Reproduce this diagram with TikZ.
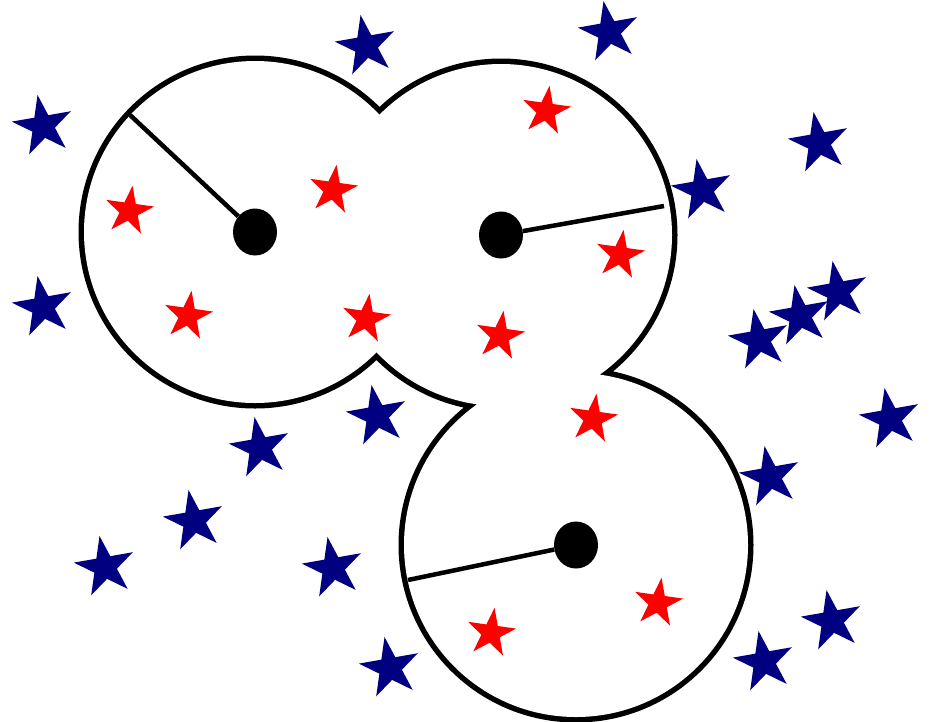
\documentclass[tikz,border=0pt]{standalone}
\usepackage{tikz}
\usetikzlibrary{shapes.geometric}
\definecolor{navy}{RGB}{0,0,128}

\begin{document}
\begin{tikzpicture}[x=1pt, y=-1pt,
  bstar/.style={star, star points=5, star point ratio=2.618, minimum size=63pt,
                inner sep=0pt, fill=navy, shape border rotate=10},
  rstar/.style={star, star points=5, star point ratio=2.618, minimum size=51pt,
                inner sep=0pt, fill=red, shape border rotate=-8},
  ctr/.style={ellipse, fill=black, minimum width=44pt, minimum height=47pt, inner sep=0pt},
  rad/.style={line width=4.5pt},
  ring/.style={line width=11pt}]
  \useasboundingbox (0,0) rectangle (931,721);
  % centres and radius ends
  \coordinate (o1) at (255,232); \coordinate (o2) at (501,235); \coordinate (o3) at (576,545);
  \coordinate (e1) at (130,115); \coordinate (e2) at (664,206); \coordinate (e3) at (408,580);
  % union of the three discs
  \draw[ring] (o1) circle[radius=171] (o2) circle[radius=171] (o3) circle[radius=172];
  \fill[white] (o1) circle[radius=171] (o2) circle[radius=171] (o3) circle[radius=172];
  \node[ctr] (c1) at (o1) {}; \node[ctr] (c2) at (o2) {}; \node[ctr] (c3) at (o3) {};
  \draw[rad] (c1) -- (e1); \draw[rad] (c2) -- (e2); \draw[rad] (c3) -- (e3);
  % inside
  \node[rstar] (r1) at (546,111) {}; \node[rstar] (r2) at (129,211) {};
  \node[rstar] (r3) at (333,190) {}; \node[rstar] (r4) at (620,255) {};
  \node[rstar] (r5) at (188,316) {}; \node[rstar] (r6) at (366,319) {};
  \node[rstar] (r7) at (500,336) {}; \node[rstar] (r8) at (593,419) {};
  \node[rstar] (r9) at (658,603) {}; \node[rstar] (r10) at (491,633) {};
  % outside
  \node[bstar] (b1) at (366,46) {};  \node[bstar] (b2) at (609,32) {};
  \node[bstar] (b3) at (43,126) {};  \node[bstar] (b4) at (819,143) {};
  \node[bstar] (b5) at (702,190) {}; \node[bstar] (b6) at (43,307) {};
  \node[bstar] (b7) at (838,292) {}; \node[bstar] (b8) at (800,316) {};
  \node[bstar] (b9) at (759,340) {}; \node[bstar] (b10) at (377,416) {};
  \node[bstar] (b11) at (260,448) {}; \node[bstar] (b12) at (890,419) {};
  \node[bstar] (b13) at (770,477) {}; \node[bstar] (b14) at (194,521) {};
  \node[bstar] (b15) at (105,567) {}; \node[bstar] (b16) at (333,568) {};
  \node[bstar] (b17) at (832,621) {}; \node[bstar] (b18) at (764,662) {};
  \node[bstar] (b19) at (390,668) {};
\end{tikzpicture}
\end{document}
